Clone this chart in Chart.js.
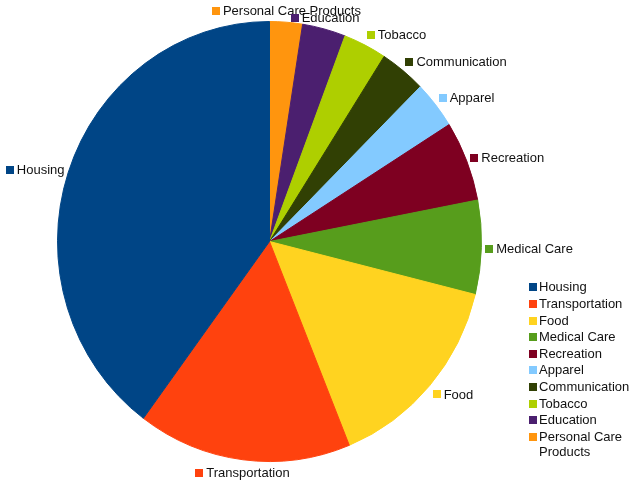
<!DOCTYPE html>
<html>
<head>
<meta charset="utf-8">
<script src="https://cdn.jsdelivr.net/npm/chart.js@4"></script>
<style>
  html, body { margin: 0; padding: 0; background: #fff; }
  #wrap { width: 630px; height: 480px; }
</style>
</head>
<body>
<div id="wrap"><canvas id="pie" width="630" height="480"></canvas></div>
<script>
// Spending categories (legend order)
const categories = ['Housing', 'Transportation', 'Food', 'Medical Care', 'Recreation',
    'Apparel', 'Communication', 'Tobacco', 'Education', 'Personal Care Products'];
const shares = [39.9, 16.3, 15.0, 6.9, 5.9, 3.5, 3.5, 3.3, 3.3, 2.5];
const colors = ['#004586', '#ff420e', '#ffd320', '#579d1c', '#7e0021',
    '#83caff', '#314004', '#aecf00', '#4b1f6f', '#ff950e'];

const FONT = '13px "Liberation Sans", Arial, sans-serif';
const X_SCALE = 212 / 220; // pie is slightly squashed horizontally

// slices go counter-clockwise from the top in the original, so feed them reversed
const pieLabels = categories.slice().reverse();
const pieValues = shares.slice().reverse();
const pieColors = colors.slice().reverse();

// squash the pie into an ellipse
const ellipsePlugin = {
    id: 'ellipse',
    beforeDatasetsDraw(chart) {
        const arc = chart.getDatasetMeta(0).data[0];
        const ctx = chart.ctx;
        ctx.save();
        ctx.translate(arc.x, 0);
        ctx.scale(X_SCALE, 1);
        ctx.translate(-arc.x, 0);
    },
    afterDatasetsDraw(chart) {
        chart.ctx.restore();
    }
};

// labels outside each slice + legend on the right
const labelPlugin = {
    id: 'outsideLabels',
    afterDraw(chart) {
        const ctx = chart.ctx;
        const meta = chart.getDatasetMeta(0);
        ctx.save();
        ctx.font = FONT;
        ctx.textBaseline = 'middle';
        ctx.textAlign = 'left';

        meta.data.forEach((arc, i) => {
            const p = arc.getProps(['x', 'y', 'startAngle', 'endAngle', 'outerRadius'], true);
            const mid = (p.startAngle + p.endAngle) / 2;
            const r = p.outerRadius + 4;
            const ax = p.x + Math.cos(mid) * r * X_SCALE;
            const ay = p.y + Math.sin(mid) * r;
            const text = pieLabels[i];
            const w = 8 + 3 + ctx.measureText(text).width;
            const h = 16;
            let left;
            if (Math.abs(Math.cos(mid)) < 0.3) left = ax - w / 2;
            else if (Math.cos(mid) > 0) left = ax;
            else left = ax - w;
            const cy = ay + Math.sin(mid) * h / 2 + 1;
            ctx.fillStyle = pieColors[i];
            ctx.fillRect(Math.round(left), Math.round(cy - 4), 8, 8);
            ctx.fillStyle = '#111';
            ctx.fillText(text, left + 11, cy + 0.5);
        });

        // legend
        const lx = 529, maxW = 630 - 540;
        let ly = 287.3;
        categories.forEach((name, i) => {
            ctx.fillStyle = colors[i];
            ctx.fillRect(lx, Math.round(ly - 4), 8, 8);
            ctx.fillStyle = '#111';
            const words = name.split(' ');
            let line = '';
            const lines = [];
            words.forEach(wd => {
                const test = line ? line + ' ' + wd : wd;
                if (ctx.measureText(test).width > maxW && line) {
                    lines.push(line);
                    line = wd;
                } else {
                    line = test;
                }
            });
            lines.push(line);
            lines.forEach((ln, k) => {
                ctx.fillText(ln, lx + 10, ly + 0.5 + k * 15.6);
            });
            ly += 16.6;
        });
        ctx.restore();
    }
};

new Chart(document.getElementById('pie'), {
    type: 'pie',
    data: {
        labels: pieLabels,
        datasets: [{
            data: pieValues,
            backgroundColor: pieColors,
            borderColor: pieColors,
            borderWidth: 1
        }]
    },
    options: {
        responsive: false,
        animation: false,
        layout: {
            padding: { left: 49, right: 140, top: 21, bottom: 18 }
        },
        plugins: {
            legend: { display: false },
            tooltip: { enabled: false }
        }
    },
    plugins: [ellipsePlugin, labelPlugin]
});
</script>
</body>
</html>
